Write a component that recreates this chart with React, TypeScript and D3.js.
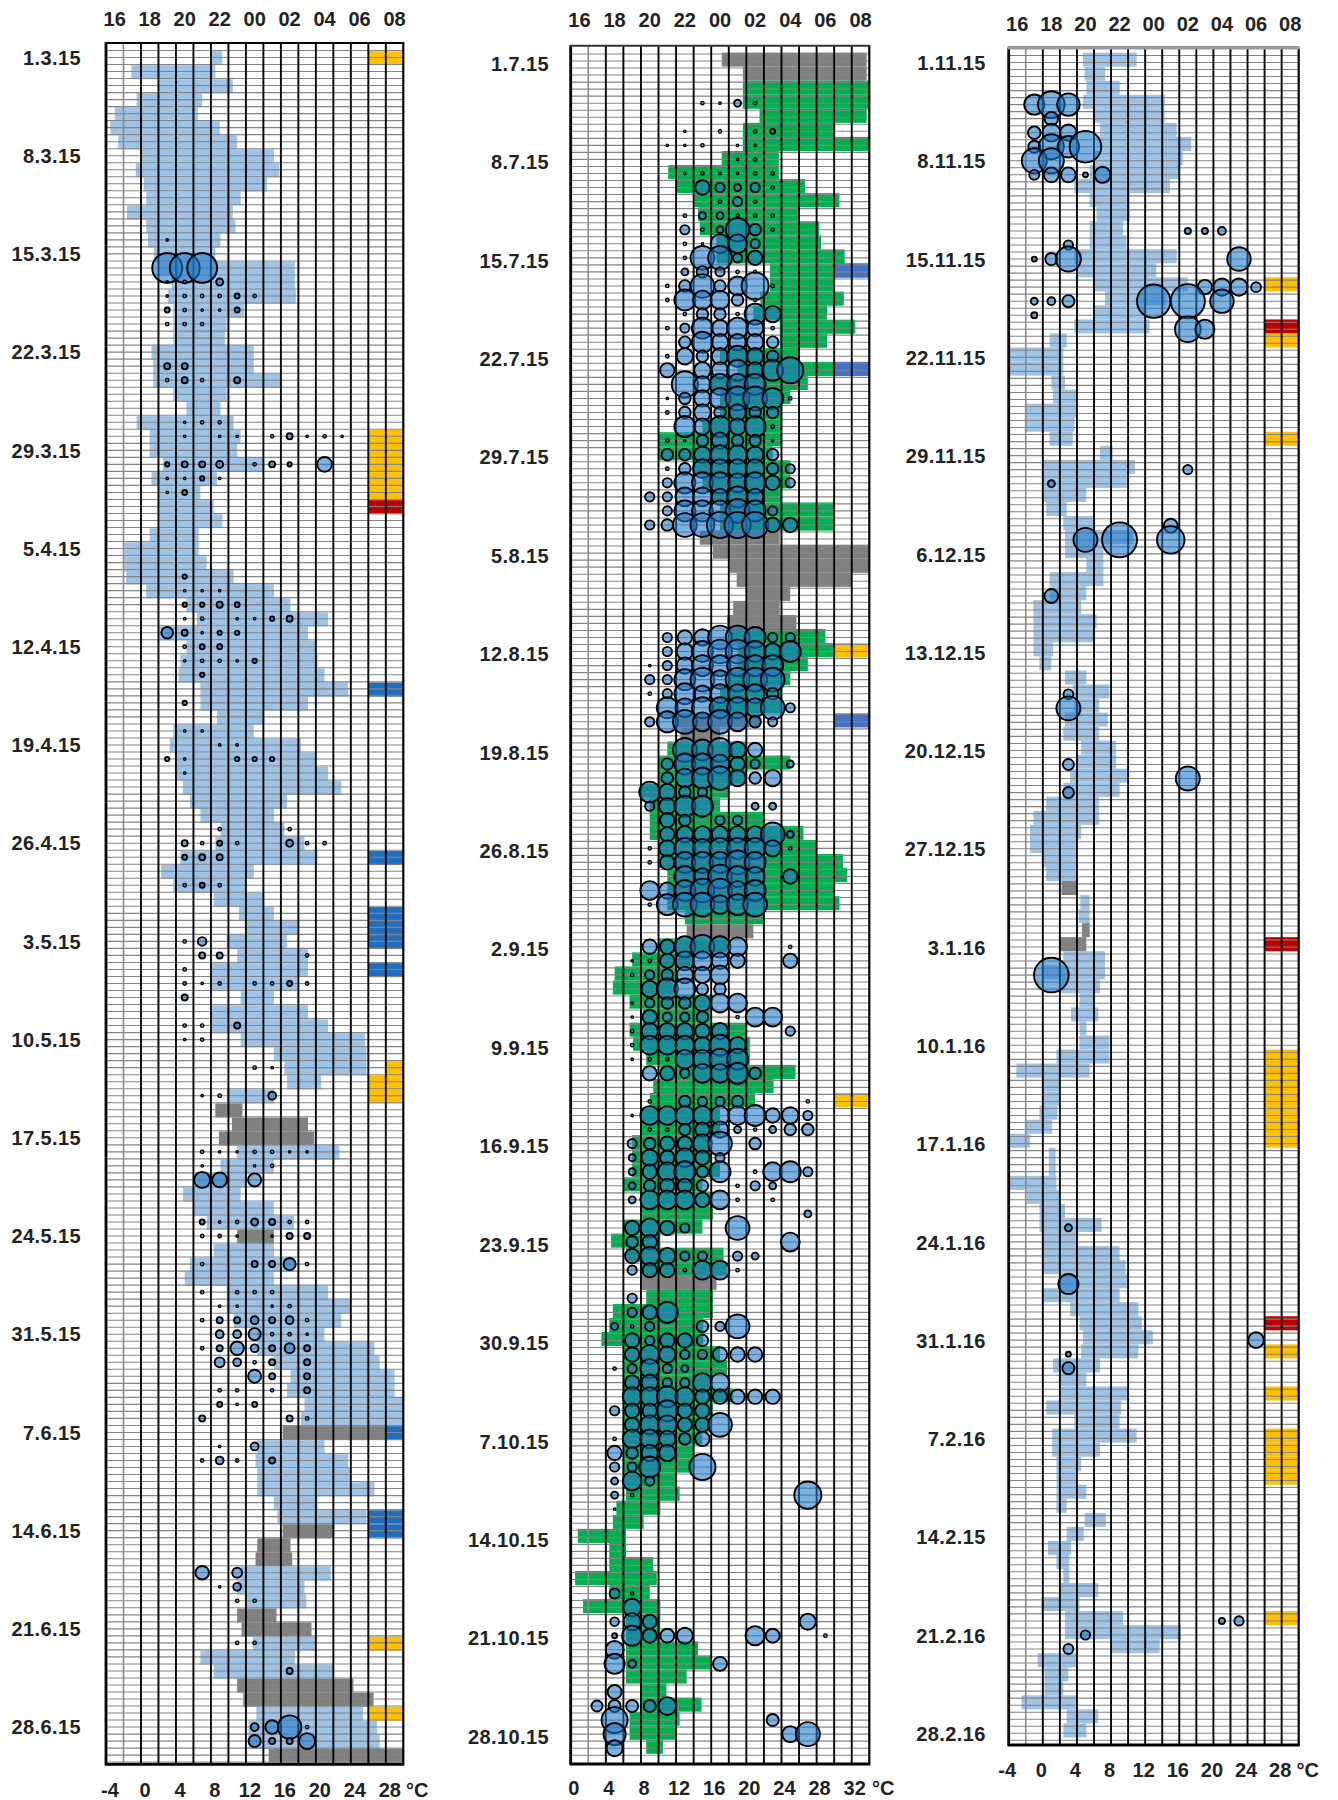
import React from 'react';
import * as d3 from 'd3';

// [day index within the panel, clock hour, number of passes]
type Activity = [number, number, number];
// [day index, marker class, number of right-hand columns covered]
type Marker = [number, string, number];

const HOURS = [16, 17, 18, 19, 20, 21, 22, 23, 0, 1, 2, 3, 4, 5, 6, 7, 8];
const HOUR_TICKS = [16, 18, 20, 22, 0, 2, 4, 6, 8];
const TEMP_TICKS_COLD = [-4, 0, 4, 8, 12, 16, 20, 24, 28];
const TEMP_TICKS_WARM = [0, 4, 8, 12, 16, 20, 24, 28, 32];

// ---------- March – June 2015 ----------
const springLabels = ['1.3.15', '8.3.15', '15.3.15', '22.3.15', '29.3.15', '5.4.15', '12.4.15', '19.4.15', '26.4.15',
  '3.5.15', '10.5.15', '17.5.15', '24.5.15', '31.5.15', '7.6.15', '14.6.15', '21.6.15', '28.6.15'];
const springMin = [8.1, -1.1, 2.1, -0.5, -3, -3.5, -2.6, 0, -0.6, 0.3,
  0.6, -1.6, 0.6, 0.8, 1.5, 2, 3.5, 3.1, 3.7, 3.7,
  3.7, 1.2, 1.4, 1.4, 3.7, 5.2, -0.5, 1, 1, 2.5,
  1.2, 2.1, 2.1, 2.1, 1, -1.9, -1.9, -1.7, 0.6, 5.2,
  6.4, 2.1, 5.2, 4.5, 4.3, 6.8, 6.8, 8.7, 3.7, 3.3,
  4.1, 4.1, 4.8, 5.6, 6.8, 9.1, 8.5, 4.5, 2.3, 3.7,
  8.3, 11.2, 12.1, 9.8, 11, 7.9, 8.1, 11.4, 8.1, 8.1,
  11.4, 15.2, 16.4, 16.7, 9.8, 8.5, 10.4, 8.9, 11, 9.1,
  6.4, 4.8, 6, 7.5, 11, 8.3, 5.6, 5, 9.8, 9.8,
  10.6, 13.3, 13.3, 15.2, 17.1, 16.7, 18.7, 18.3, 16.2, 13.3,
  13.1, 13.3, 13.3, 15.2, 15.6, 16.2, 13.3, 13.1, 11.4, 11,
  12.1, 11, 11.5, 12.8, 6.8, 8.3, 11, 11.7, 13.2, 12.3,
  12.3, 14.6];
const springMax = [9.3, 8.5, 10.5, 7, 6.5, 9, 11, 15.2, 15.8, 14.4,
  11.4, 10.5, 10.8, 9.1, 8.5, 17.6, 17.6, 17.7, 11.8, 9.8,
  9.6, 12.9, 12.9, 16, 9.8, 9.1, 10.6, 11.4, 11, 14.1,
  8.7, 6.8, 8.3, 9.3, 6.6, 6.6, 7.5, 10.6, 15.2, 17.1,
  21.4, 19.1, 20, 20.2, 21, 23.7, 19.1, 14.1, 12.9, 18.3,
  20, 21.4, 22.9, 16.7, 15.2, 16.4, 18.7, 20.2, 12.9, 12.1,
  14.1, 15.2, 17.9, 16.7, 19.1, 19.1, 17.9, 15.2, 19.1, 21.4,
  25.6, 25.8, 25.8, 20.6, 15.2, 11.6, 19.1, 19.8, 22.7, 15.2,
  12.1, 11.4, 15.2, 17.5, 15.2, 15.2, 17.5, 15.2, 21.4, 23.9,
  22.9, 21, 26.7, 27.3, 29, 29, 30, 30, 28.3, 21,
  23.7, 24, 26.7, 20.2, 25.8, 22.1, 17.1, 17.3, 21.7, 18.7,
  18.9, 15.5, 19.5, 19.9, 17.6, 22, 24.3, 26.6, 25.4, 27,
  27.3, 30];
const springGreyDays = [75, 76, 77, 84, 98, 105, 106, 107, 111, 112, 116, 117, 121];
const springMarkers: Marker[] = [[0, 'y', 2], [27, 'y', 2], [28, 'y', 2], [29, 'y', 2], [30, 'y', 2], [31, 'y', 2],
  [32, 'r', 2], [45, 'b', 2], [57, 'b', 2], [61, 'b', 2], [62, 'b', 2], [63, 'b', 2], [65, 'b', 2],
  [72, 'y', 1], [73, 'y', 2], [74, 'y', 2], [98, 'b', 1], [104, 'b', 2], [105, 'b', 2], [113, 'y', 2], [118, 'y', 2]];
const springActivity: Activity[] = [
  [13, 19, 0.5],
  [15, 19, 73], [15, 20, 73], [15, 21, 73],
  [16, 19, 0.5], [16, 20, 1], [16, 22, 4],
  [17, 19, 0.5], [17, 20, 1], [17, 21, 1], [17, 22, 1], [17, 23, 2], [17, 0, 1],
  [18, 19, 2], [18, 20, 1], [18, 21, 0.5], [18, 22, 0.5], [18, 23, 2],
  [19, 19, 1], [19, 20, 1], [19, 21, 1],
  [22, 19, 3], [22, 20, 3],
  [23, 19, 1], [23, 20, 3], [23, 21, 1], [23, 23, 3],
  [26, 20, 0.5], [26, 21, 1], [26, 22, 1],
  [27, 20, 0.5], [27, 22, 0.5], [27, 23, 0.5], [27, 1, 1], [27, 2, 3], [27, 3, 0.5], [27, 4, 1], [27, 5, 0.5],
  [29, 19, 1.5], [29, 20, 3], [29, 21, 3], [29, 22, 4], [29, 0, 1], [29, 1, 3], [29, 2, 1.5], [29, 4, 18],
  [30, 19, 0.5], [30, 20, 0.5], [30, 21, 1.5], [30, 22, 0.5],
  [31, 19, 0.5], [31, 20, 2],
  [37, 20, 1.5],
  [38, 20, 0.5], [38, 21, 0.5], [38, 22, 0.5],
  [39, 20, 1.5], [39, 21, 1.5], [39, 22, 3], [39, 23, 2],
  [40, 20, 0.5], [40, 21, 1], [40, 23, 0.5], [40, 0, 0.5], [40, 1, 1.5], [40, 2, 3],
  [41, 19, 11], [41, 20, 3], [41, 21, 0.5], [41, 22, 1.5], [41, 23, 1.5],
  [42, 20, 1], [42, 21, 2], [42, 22, 2],
  [43, 20, 0.5], [43, 21, 1], [43, 22, 1], [43, 23, 0.5], [43, 0, 1.5],
  [44, 21, 1.5],
  [46, 20, 1.5],
  [48, 20, 0.5], [48, 21, 0.5],
  [49, 22, 0.5], [49, 23, 0.5],
  [50, 19, 1.5], [50, 20, 0.5], [50, 23, 1.5], [50, 0, 1.5], [50, 1, 1.5],
  [51, 20, 0.5],
  [55, 22, 1], [55, 2, 1],
  [56, 20, 3], [56, 21, 1], [56, 22, 2], [56, 23, 1], [56, 2, 4], [56, 3, 1], [56, 4, 1],
  [57, 20, 2], [57, 21, 3], [57, 22, 3],
  [59, 20, 1], [59, 21, 2], [59, 22, 1],
  [63, 20, 1], [63, 21, 6],
  [64, 21, 3], [64, 22, 3], [64, 3, 1],
  [65, 20, 1],
  [66, 20, 1], [66, 21, 0.5], [66, 22, 1], [66, 0, 1], [66, 1, 1], [66, 2, 2], [66, 3, 1],
  [67, 20, 3],
  [69, 20, 1], [69, 21, 1], [69, 23, 3],
  [70, 20, 0.5], [70, 21, 1],
  [72, 0, 1], [72, 1, 0.5],
  [74, 21, 0.5], [74, 22, 1], [74, 1, 5],
  [78, 21, 1], [78, 22, 0.5], [78, 23, 0.5], [78, 0, 1], [78, 1, 1], [78, 2, 0.5], [78, 3, 0.5],
  [79, 21, 0.5], [79, 0, 0.5], [79, 1, 1],
  [80, 21, 21], [80, 22, 18], [80, 0, 14],
  [83, 21, 2], [83, 22, 0.5], [83, 23, 1], [83, 0, 4], [83, 1, 3], [83, 2, 1], [83, 3, 1],
  [84, 21, 1], [84, 22, 1], [84, 23, 0.5], [84, 1, 0.5], [84, 2, 3], [84, 3, 3],
  [86, 21, 1], [86, 0, 3], [86, 1, 3], [86, 2, 12], [86, 3, 1],
  [88, 21, 1], [88, 23, 1], [88, 0, 1], [88, 1, 1],
  [89, 22, 0.5], [89, 23, 0.5], [89, 1, 0.5], [89, 2, 1],
  [90, 21, 1], [90, 22, 3], [90, 23, 3], [90, 0, 5], [90, 1, 3], [90, 2, 5], [90, 3, 1],
  [91, 22, 5], [91, 23, 5], [91, 0, 12], [91, 1, 1], [91, 2, 1], [91, 3, 0.5],
  [92, 21, 1], [92, 22, 3], [92, 23, 15], [92, 0, 5], [92, 1, 3], [92, 2, 8], [92, 3, 3],
  [93, 22, 8], [93, 23, 5], [93, 0, 1], [93, 1, 3], [93, 3, 3],
  [94, 0, 14], [94, 1, 3], [94, 3, 3],
  [95, 22, 1], [95, 23, 1], [95, 1, 1], [95, 3, 3],
  [96, 22, 2], [96, 23, 0.5], [96, 0, 2],
  [97, 21, 3], [97, 2, 3], [97, 3, 1],
  [99, 22, 0.5], [99, 0, 5],
  [100, 21, 1], [100, 22, 5], [100, 23, 1], [100, 1, 3],
  [108, 21, 15], [108, 23, 8],
  [109, 22, 0.5], [109, 23, 5],
  [110, 23, 1], [110, 0, 1],
  [113, 23, 1], [113, 0, 1],
  [115, 2, 3],
  [119, 0, 5], [119, 1, 15], [119, 2, 45], [119, 3, 1],
  [120, 0, 12], [120, 1, 3], [120, 2, 3], [120, 3, 21],
];

// ---------- July – October 2015 ----------
const summerLabels = ['1.7.15', '8.7.15', '15.7.15', '22.7.15', '29.7.15', '5.8.15', '12.8.15', '19.8.15', '26.8.15',
  '2.9.15', '9.9.15', '16.9.15', '23.9.15', '30.9.15', '7.10.15', '14.10.15', '21.10.15', '28.10.15'];
const summerMin = [17.2, 19.6, 19.6, 19.6, 21.5, 19.6, 19.6, 17.2, 11.1, 12,
  14.1, 14.5, 14.7, 16.6, 16.6, 22.7, 22.7, 21.6, 20.8, 23.8,
  23.8, 17, 19, 16, 17, 17, 15, 10, 10, 14,
  15, 16, 17, 17, 14.7, 16.2, 18.1, 18.9, 20, 18.5,
  17.8, 18, 19, 19, 18, 17, 16, 11.7, 12.5, 11,
  10, 10, 8, 9, 9, 9, 10, 10, 11, 11,
  11, 13, 13.2, 10, 7, 5, 4.8, 6.7, 8.2, 6.7,
  7.1, 8.6, 10.2, 9.4, 9, 8, 8, 7, 7, 7,
  6, 7.9, 7.9, 6, 4.6, 6.3, 7.9, 8.1, 8.6, 4.8,
  4.4, 3.5, 6, 6, 6, 6, 6, 6, 6, 6,
  6, 6, 6.3, 5.2, 4.8, 0.8, 4.4, 4.4, 0.5, 4.4,
  1.4, 6.3, 6.3, 6.3, 6.3, 6.3, 7.9, 8.1, 6.7, 6.7,
  8.6];
const summerMax = [33.7, 33.7, 34, 34, 33.7, 30.1, 34, 23.7, 23.7, 26.7,
  30.6, 25.9, 28.3, 28.5, 31.2, 34, 30, 31.1, 29.2, 32.4,
  29.2, 26, 32, 27, 25, 24, 24, 24, 23, 25,
  25, 24, 30, 30, 23.8, 34, 34, 32, 25, 23.8,
  25.7, 29, 32, 27, 25, 24, 24, 21.6, 17, 20,
  25, 20, 18, 17, 22, 26.5, 28, 31, 31.5, 30,
  30.6, 22, 20.8, 17.8, 14, 12, 11.7, 16.2, 15.9, 20,
  20.4, 20.4, 25.6, 23.1, 21, 17, 17, 16, 16, 17,
  15, 16.2, 16.2, 15, 10.2, 17.4, 17.8, 16.6, 16.2, 16.2,
  15.1, 15.1, 17, 17.8, 16.2, 18.5, 16.2, 16, 15, 14,
  13.9, 12, 12.4, 10.2, 8.3, 6.3, 6.3, 9.4, 9.8, 9,
  10.2, 10.2, 10.2, 14.5, 15.9, 13.2, 10.9, 14.9, 12.4, 12.1,
  10.5];
const summerGreyDays = [0, 1, 34, 35, 36, 37, 38, 39, 40, 47, 48, 62, 87];
const summerMarkers: Marker[] = [[15, 'b', 2], [22, 'b', 2], [42, 'y', 2], [47, 'b', 2], [74, 'y', 2]];
const summerActivity: Activity[] = [
  [3, 23, 1], [3, 0, 0.5], [3, 1, 4], [3, 2, 1],
  [5, 22, 0.5], [5, 0, 1], [5, 2, 1], [5, 3, 2],
  [6, 21, 0.5], [6, 22, 0.5], [6, 23, 1], [6, 1, 0.5], [6, 2, 0.5],
  [7, 1, 0.5], [7, 2, 1],
  [8, 22, 0.5], [8, 23, 1], [8, 0, 0.5], [8, 1, 0.5], [8, 2, 1], [8, 3, 1],
  [9, 23, 17], [9, 0, 7], [9, 1, 4], [9, 2, 7], [9, 3, 1],
  [10, 0, 1], [10, 1, 7], [10, 2, 1],
  [11, 22, 1], [11, 23, 4], [11, 0, 4], [11, 1, 1], [11, 2, 1], [11, 3, 1],
  [12, 22, 7], [12, 23, 1], [12, 0, 4], [12, 1, 45], [12, 2, 11], [12, 3, 1],
  [13, 22, 1], [13, 23, 0.5], [13, 0, 29], [13, 1, 29], [13, 2, 7],
  [14, 22, 1], [14, 23, 46], [14, 0, 46], [14, 1, 7], [14, 2, 17],
  [15, 22, 4], [15, 23, 11], [15, 0, 7], [15, 1, 1], [15, 2, 1],
  [16, 21, 1], [16, 22, 11], [16, 23, 46], [16, 0, 11], [16, 1, 29], [16, 2, 60], [16, 3, 1],
  [17, 21, 1], [17, 22, 36], [17, 23, 29], [17, 0, 29], [17, 1, 11], [17, 2, 1],
  [18, 22, 1], [18, 23, 11], [18, 0, 11], [18, 1, 1], [18, 2, 36], [18, 3, 22],
  [19, 21, 1], [19, 22, 7], [19, 23, 36], [19, 0, 22], [19, 1, 36], [19, 2, 22], [19, 3, 1],
  [20, 22, 11], [20, 23, 36], [20, 0, 22], [20, 1, 22], [20, 2, 22], [20, 3, 11],
  [21, 21, 1], [21, 22, 22], [21, 23, 11], [21, 0, 22], [21, 1, 36], [21, 2, 22], [21, 3, 11],
  [22, 21, 17], [22, 23, 22], [22, 0, 22], [22, 1, 36], [22, 2, 22], [22, 3, 36], [22, 4, 56],
  [23, 22, 56], [23, 23, 22], [23, 0, 36], [23, 1, 36], [23, 2, 36],
  [24, 21, 0.5], [24, 22, 11], [24, 23, 22], [24, 0, 36], [24, 1, 46], [24, 2, 46], [24, 3, 36], [24, 4, 1],
  [25, 21, 1], [25, 22, 11], [25, 23, 22], [25, 0, 11], [25, 1, 22], [25, 2, 11], [25, 3, 11],
  [26, 22, 36], [26, 23, 22], [26, 0, 36], [26, 1, 22], [26, 2, 36], [26, 3, 1],
  [27, 21, 1], [27, 22, 0.5], [27, 23, 11], [27, 0, 22], [27, 1, 11], [27, 2, 11], [27, 3, 0.5],
  [28, 21, 11], [28, 22, 11], [28, 23, 22], [28, 0, 29], [28, 1, 29], [28, 2, 22], [28, 3, 11],
  [29, 21, 1], [29, 22, 11], [29, 23, 29], [29, 0, 29], [29, 1, 29], [29, 2, 29], [29, 3, 11], [29, 4, 7],
  [30, 21, 7], [30, 22, 36], [30, 23, 36], [30, 0, 36], [30, 1, 29], [30, 2, 36], [30, 3, 17], [30, 4, 7],
  [31, 20, 7], [31, 21, 7], [31, 22, 29], [31, 23, 29], [31, 0, 22], [31, 1, 36], [31, 2, 22],
  [32, 21, 7], [32, 22, 36], [32, 23, 36], [32, 0, 36], [32, 1, 46], [32, 2, 36], [32, 3, 7],
  [33, 20, 7], [33, 21, 11], [33, 22, 46], [33, 23, 46], [33, 0, 56], [33, 1, 56], [33, 2, 56], [33, 3, 17], [33, 4, 17],
  [41, 21, 7], [41, 22, 17], [41, 23, 22], [41, 0, 46], [41, 1, 46], [41, 2, 36], [41, 3, 7], [41, 4, 7],
  [42, 21, 7], [42, 22, 22], [42, 23, 36], [42, 0, 46], [42, 1, 46], [42, 2, 36], [42, 3, 22], [42, 4, 36],
  [43, 20, 0.5], [43, 21, 7], [43, 22, 22], [43, 23, 36], [43, 0, 36], [43, 1, 36], [43, 2, 36], [43, 3, 36],
  [44, 20, 7], [44, 21, 7], [44, 22, 36], [44, 23, 46], [44, 0, 29], [44, 1, 46], [44, 2, 46], [44, 3, 46],
  [45, 20, 1], [45, 21, 7], [45, 22, 36], [45, 23, 22], [45, 0, 29], [45, 1, 29], [45, 2, 29], [45, 3, 11],
  [46, 21, 36], [46, 22, 29], [46, 23, 36], [46, 0, 36], [46, 1, 36], [46, 2, 29], [46, 3, 46], [46, 4, 7],
  [47, 20, 7], [47, 21, 36], [47, 22, 46], [47, 23, 29], [47, 0, 46], [47, 1, 29], [47, 2, 11], [47, 3, 7],
  [49, 22, 46], [49, 23, 36], [49, 0, 46], [49, 1, 22], [49, 2, 17],
  [50, 21, 11], [50, 22, 36], [50, 23, 36], [50, 0, 29], [50, 1, 17], [50, 2, 7], [50, 4, 4],
  [51, 21, 11], [51, 22, 29], [51, 23, 36], [51, 0, 46], [51, 1, 22], [51, 2, 11], [51, 3, 22],
  [52, 20, 36], [52, 21, 22], [52, 22, 11], [52, 23, 7],
  [53, 20, 7], [53, 21, 22], [53, 22, 36], [53, 23, 36], [53, 2, 4], [53, 3, 4],
  [54, 21, 17], [54, 22, 11], [54, 0, 7], [54, 1, 7],
  [55, 21, 17], [55, 22, 22], [55, 23, 22], [55, 0, 22], [55, 1, 22], [55, 2, 22], [55, 3, 46], [55, 4, 4],
  [56, 20, 1], [56, 21, 22], [56, 22, 36], [56, 23, 29], [56, 0, 36], [56, 1, 36], [56, 2, 36], [56, 3, 22], [56, 4, 1],
  [57, 20, 1], [57, 21, 17], [57, 22, 36], [57, 23, 36], [57, 0, 36], [57, 1, 46], [57, 2, 36],
  [58, 22, 36], [58, 23, 22], [58, 0, 46], [58, 1, 36], [58, 2, 29], [58, 4, 17],
  [59, 20, 29], [59, 21, 22], [59, 22, 36], [59, 23, 46], [59, 0, 46], [59, 1, 29], [59, 2, 36],
  [60, 20, 1], [60, 21, 36], [60, 22, 46], [60, 23, 46], [60, 0, 29], [60, 1, 36], [60, 2, 46],
  [63, 20, 17], [63, 21, 17], [63, 22, 36], [63, 23, 46], [63, 0, 36], [63, 1, 29], [63, 4, 1],
  [64, 19, 0.5], [64, 20, 1], [64, 21, 17], [64, 22, 29], [64, 23, 29], [64, 0, 22], [64, 1, 17], [64, 4, 17],
  [65, 19, 1], [65, 20, 7], [65, 21, 11], [65, 22, 22], [65, 23, 22], [65, 0, 29],
  [66, 20, 22], [66, 21, 36], [66, 22, 36], [66, 23, 11], [66, 0, 11],
  [67, 19, 0.5], [67, 20, 7], [67, 21, 11], [67, 22, 11], [67, 23, 22], [67, 0, 29], [67, 1, 29],
  [68, 19, 0.5], [68, 20, 17], [68, 21, 7], [68, 22, 7], [68, 23, 11], [68, 1, 1], [68, 2, 29], [68, 3, 29],
  [69, 19, 1], [69, 20, 22], [69, 21, 22], [69, 22, 22], [69, 23, 17], [69, 0, 22], [69, 4, 7],
  [70, 19, 1], [70, 20, 29], [70, 21, 29], [70, 22, 29], [70, 23, 22], [70, 0, 36], [70, 1, 22],
  [71, 19, 0.5], [71, 20, 1], [71, 21, 1], [71, 22, 29], [71, 23, 29], [71, 0, 36], [71, 1, 36],
  [72, 20, 17], [72, 21, 17], [72, 22, 7], [72, 23, 29], [72, 0, 29], [72, 1, 36], [72, 2, 11],
  [74, 20, 1], [74, 22, 11], [74, 23, 7], [74, 0, 7], [74, 1, 11], [74, 5, 1],
  [75, 19, 0.5], [75, 20, 29], [75, 21, 29], [75, 22, 29], [75, 23, 29], [75, 0, 29], [75, 1, 29], [75, 2, 36], [75, 3, 17], [75, 4, 22], [75, 5, 7],
  [76, 20, 1], [76, 21, 1], [76, 22, 11], [76, 23, 17], [76, 0, 22], [76, 1, 4], [76, 2, 1], [76, 3, 4], [76, 4, 11], [76, 5, 11],
  [77, 19, 7], [77, 20, 11], [77, 21, 17], [77, 22, 17], [77, 23, 29], [77, 0, 46], [77, 2, 11],
  [78, 19, 4], [78, 20, 22], [78, 21, 17], [78, 22, 29], [78, 23, 17], [78, 0, 7],
  [79, 19, 4], [79, 20, 17], [79, 21, 29], [79, 22, 36], [79, 23, 11], [79, 0, 36], [79, 2, 1], [79, 3, 29], [79, 4, 36], [79, 5, 7],
  [80, 19, 4], [80, 20, 11], [80, 21, 17], [80, 22, 17], [80, 23, 11], [80, 1, 1], [80, 2, 7], [80, 3, 4],
  [81, 19, 4], [81, 20, 29], [81, 21, 29], [81, 22, 29], [81, 23, 17], [81, 0, 29], [81, 1, 1], [81, 3, 1],
  [82, 5, 4],
  [83, 19, 17], [83, 20, 29], [83, 21, 17], [83, 22, 7], [83, 1, 46],
  [84, 19, 11], [84, 20, 17], [84, 4, 29],
  [85, 19, 17], [85, 20, 29], [85, 21, 22], [85, 22, 7], [85, 23, 7], [85, 1, 7], [85, 2, 4],
  [86, 19, 7], [86, 20, 17], [86, 21, 17], [86, 22, 1], [86, 23, 29], [86, 0, 29], [86, 1, 1],
  [88, 19, 7],
  [89, 19, 7], [89, 20, 17], [89, 21, 36],
  [90, 18, 4], [90, 19, 1], [90, 20, 7], [90, 23, 11], [90, 0, 7], [90, 1, 46],
  [91, 19, 17], [91, 20, 7], [91, 21, 17], [91, 22, 17], [91, 23, 11],
  [92, 19, 17], [92, 20, 29], [92, 21, 22], [92, 22, 7], [92, 23, 7], [92, 0, 17], [92, 1, 17], [92, 2, 17],
  [93, 18, 1], [93, 19, 7], [93, 20, 29], [93, 21, 7], [93, 22, 4],
  [94, 19, 17], [94, 20, 22], [94, 21, 7], [94, 22, 7], [94, 23, 29], [94, 0, 29],
  [95, 19, 29], [95, 20, 29], [95, 21, 36], [95, 22, 29], [95, 23, 17], [95, 0, 17], [95, 1, 17], [95, 2, 17], [95, 3, 17],
  [96, 18, 7], [96, 19, 17], [96, 20, 17], [96, 21, 36], [96, 22, 17], [96, 23, 17],
  [97, 19, 17], [97, 20, 29], [97, 21, 29], [97, 22, 17], [97, 23, 17], [97, 0, 46],
  [98, 18, 1], [98, 19, 29], [98, 20, 29], [98, 21, 22], [98, 22, 11], [98, 23, 17],
  [99, 18, 17], [99, 19, 11], [99, 20, 22], [99, 21, 22],
  [100, 18, 7], [100, 19, 7], [100, 20, 36], [100, 23, 56],
  [101, 18, 4], [101, 19, 29], [101, 20, 7],
  [102, 18, 4], [102, 19, 1], [102, 5, 60],
  [103, 18, 0.5],
  [109, 18, 8], [109, 19, 1],
  [110, 19, 26],
  [111, 18, 6], [111, 19, 24], [111, 20, 16], [111, 5, 21],
  [112, 18, 2], [112, 19, 33], [112, 20, 16], [112, 21, 16], [112, 22, 21], [112, 2, 30], [112, 3, 16], [112, 6, 1],
  [113, 18, 26],
  [114, 18, 33], [114, 19, 5], [114, 0, 16],
  [116, 18, 16],
  [117, 17, 10], [117, 18, 12], [117, 19, 12], [117, 20, 12], [117, 21, 26],
  [118, 18, 55], [118, 3, 12],
  [119, 18, 40], [119, 4, 21], [119, 5, 47],
  [120, 18, 21],
];

// ---------- November 2015 – February 2016 ----------
const winterLabels = ['1.11.15', '8.11.15', '15.11.15', '22.11.15', '29.11.15', '6.12.15', '13.12.15', '20.12.15', '27.12.15',
  '3.1.16', '10.1.16', '17.1.16', '24.1.16', '31.1.16', '7.2.16', '14.2.15', '21.2.16', '28.2.16'];
const winterMin = [4.7, 4.9, 5.1, 4.7, 5.9, 6.7, 6.7, 5.9, 5.5, 3.7,
  5.5, 6.3, 5.5, 5.5, 3.7, 3.9, 6, 7.3, 6, 3.7,
  0.8, -3.9, -3.9, 1, 1.2, -2.1, -2.1, 0.8, 6.7, 0,
  0, 0, 0.4, 2.4, 2.6, 2.6, 5.1, 0.8, 0.8, -1.1,
  -1.1, -1.1, -1.1, -0.4, 2.6, 3.5, 3.7, 2.6, 2.4, 4.5,
  3.9, 3.2, 2.4, 0.4, -1.1, -1.5, -1.5, 0, 0.4, 2.2,
  4.4, 4.2, 4.6, 2, 2.4, 0, 2, 4.3, 3.3, 4.3,
  4.3, 1.6, -3.1, 0, 0, -0.4, -2.1, -3.9, 0.7, 0.7,
  -3.9, -1.9, -0.4, -0.4, 0, 0, 0, 2, 0, 3.2,
  4.3, 4.7, 4.5, 1.2, 2, 2, 0.4, 3.7, 1.1, 1.1,
  1.6, 1.6, 1.6, 1.6, 4.9, 2.8, 0.6, 1.6, 2.4, 2,
  -0.2, 2.6, 2.6, 8, -0.6, 0.2, 0.2, -2.5, 2.8, 2.4];
const winterMax = [11, 7.3, 9, 14.3, 14.3, 15.7, 17.4, 16.4, 16, 14.9,
  10.2, 10.2, 9.4, 9.8, 15.7, 13.3, 17, 14.5, 12, 12.5,
  2.8, 2.4, 2.4, 2.6, 4, 3.9, 3.7, 3.5, 8.2, 10.8,
  9.9, 5.1, 2.8, 5.9, 10.6, 7.1, 7.1, 7.1, 5.1, 4.5,
  6.3, 5.9, 1.2, 1, 5.1, 7.8, 6.6, 7.6, 6.6, 8.6,
  8.6, 9.9, 9, 6.6, 6.6, 4.5, 3.9, 3.9, 3.9, 3.9,
  5.5, 5.5, 5.5, 5.1, 7.3, 7.3, 6.7, 5.9, 6.5, 5.1,
  7.8, 7.8, 5.5, 2, 2, 1.7, 1.1, -1.5, 1.5, 1.5,
  1.6, 2, 2.6, 6.9, 4.1, 9, 9.7, 9.9, 9, 11.2,
  11.6, 12.9, 11.2, 6.7, 5.1, 9.9, 9.2, 9, 11, 6.7,
  4.5, 3.9, 5.1, 2.8, 7.4, 4.8, 3.3, 3.1, 3.1, 6.5,
  4.3, 9.4, 16.2, 13.7, 4.1, 3, 2.4, 4.1, 6.5, 5.1];
const winterGreyDays = [59, 62, 63];
const winterMarkers: Marker[] = [[16, 'y', 2], [19, 'r', 2], [20, 'y', 2], [27, 'y', 2], [63, 'r', 2],
  [71, 'y', 2], [72, 'y', 2], [73, 'y', 2], [74, 'y', 2], [75, 'y', 2], [76, 'y', 2], [77, 'y', 2],
  [90, 'r', 2], [92, 'y', 2], [95, 'y', 2], [98, 'y', 2], [99, 'y', 2], [100, 'y', 2], [101, 'y', 2], [111, 'y', 2]];
const winterActivity: Activity[] = [
  [3, 17, 33], [3, 18, 58], [3, 19, 41],
  [4, 18, 15],
  [5, 17, 13], [5, 18, 26], [5, 19, 22],
  [6, 17, 12], [6, 18, 51], [6, 19, 38], [6, 20, 82],
  [7, 17, 51], [7, 18, 51],
  [8, 17, 8], [8, 18, 18], [8, 19, 18], [8, 20, 2], [8, 21, 21],
  [12, 2, 3], [12, 3, 3], [12, 4, 5],
  [13, 19, 7],
  [14, 17, 2], [14, 18, 12], [14, 19, 51], [14, 5, 45],
  [16, 3, 17], [16, 4, 24], [16, 5, 24], [16, 6, 8],
  [17, 17, 4], [17, 18, 5], [17, 19, 12], [17, 0, 91], [17, 2, 95], [17, 4, 45],
  [18, 17, 3],
  [19, 2, 54], [19, 3, 30],
  [29, 2, 7],
  [30, 18, 4],
  [33, 1, 16],
  [34, 20, 47], [34, 22, 100], [34, 1, 62],
  [38, 18, 16],
  [45, 19, 8],
  [46, 19, 47],
  [50, 19, 10],
  [51, 2, 47],
  [52, 19, 10],
  [65, 18, 98],
  [83, 19, 4],
  [87, 19, 33],
  [91, 6, 20],
  [92, 19, 2],
  [93, 19, 12],
  [111, 4, 3], [111, 5, 7],
  [112, 20, 7],
  [113, 19, 8],
];

interface Frame {
  left: number; right: number; top: number; bottom: number;
  day0: number; dayStep: number; barShift: number;
  labelRight: number; labelShift: number;
  hourY: number; tempY: number; tickShift: number; unitShift: number;
  topStroke: string; topWidth: number;
}

interface PanelSpec {
  id: string;
  labels: string[];
  tMin: number[];
  tMax: number[];
  grey: number[];
  markers: Marker[];
  activity: Activity[];
  tempDomain: [number, number];
  tempTicks: number[];
  rangeFill: string;
  markerBlue: string;
  frame: Frame;
}

const panels: PanelSpec[] = [
  {
    id: 'spring', labels: springLabels, tMin: springMin, tMax: springMax, grey: springGreyDays,
    markers: springMarkers, activity: springActivity, tempDomain: [-4, 30], tempTicks: TEMP_TICKS_COLD,
    rangeFill: '#9dc3e6', markerBlue: '#1f6fc0',
    frame: { left: 106, right: 403.3, top: 43, bottom: 1764.3, day0: 57.5, dayStep: 14.03, barShift: 0.05,
      labelRight: 81, labelShift: 0, hourY: 18.5, tempY: 1790, tickShift: 4, unitShift: 14,
      topStroke: '#000', topWidth: 2 },
  },
  {
    id: 'summer', labels: summerLabels, tMin: summerMin, tMax: summerMax, grey: summerGreyDays,
    markers: summerMarkers, activity: summerActivity, tempDomain: [0, 34], tempTicks: TEMP_TICKS_WARM,
    rangeFill: '#00b050', markerBlue: '#4472c4',
    frame: { left: 570.7, right: 869.3, top: 45.7, bottom: 1764, day0: 61, dayStep: 14.06, barShift: -0.1,
      labelRight: 549, labelShift: 2.5, hourY: 19.5, tempY: 1788, tickShift: 3, unitShift: 14,
      topStroke: '#333', topWidth: 2 },
  },
  {
    id: 'winter', labels: winterLabels, tMin: winterMin, tMax: winterMax, grey: winterGreyDays,
    markers: winterMarkers, activity: winterActivity, tempDomain: [-4, 30], tempTicks: TEMP_TICKS_COLD,
    rangeFill: '#9dc3e6', markerBlue: '#1f6fc0',
    frame: { left: 1008.7, right: 1298.7, top: 47.7, bottom: 1745, day0: 62.5, dayStep: 14.04, barShift: -0.2,
      labelRight: 985.7, labelShift: 0.5, hourY: 24, tempY: 1770, tickShift: -1.5, unitShift: 9,
      topStroke: '#9a9a9a', topWidth: 3.5 },
  },
];

const FONT = '"Liberation Sans", Arial, Helvetica, sans-serif';
const TEXT_COLOR = '#222';
const MARKER_FILL: Record<string, string> = { y: '#ffc000', r: '#c00000' };

function Panel({ p }: { p: PanelSpec }) {
  const f = p.frame;
  const x = d3.scaleLinear().domain(p.tempDomain).range([f.left, f.right]);
  const col = d3.scaleBand<number>().domain(HOURS).range([f.left, f.right]).padding(0);
  const y = d3.scaleLinear().domain([0, 1]).range([f.day0, f.day0 + f.dayStep]);
  const r = d3.scaleSqrt().domain([0, 100]).range([0, 17.5]);
  const greySet = new Set(p.grey);
  const step = col.step();

  const dTop = y.invert(f.top);
  const dBottom = y.invert(f.bottom);
  const halfDays: number[] = [];
  for (let k = Math.ceil(dTop * 2 + 0.3); k / 2 < dBottom - 0.15; k++) halfDays.push(k / 2);

  const verticals = d3.range(HOURS.length + 1).map((i) => f.left + i * step);

  return (
    <g>
      {/* daily temperature range */}
      {p.tMin.map((lo, d) => {
        const hi = p.tMax[d];
        const y0 = y(d - 0.5 + f.barShift);
        const y1 = y(d + 0.5 + f.barShift);
        return (
          <rect key={`t${d}`} x={x(lo)} y={y0} width={Math.max(0, x(hi) - x(lo))} height={y1 - y0}
            fill={greySet.has(d) ? '#808080' : p.rangeFill} />
        );
      })}
      {/* weather markers in the two right-hand columns */}
      {p.markers.map(([d, cls, span], i) => {
        const x0 = col(HOURS[HOURS.length - span]) as number;
        const y0 = y(d - 0.5 + f.barShift);
        const y1 = y(d + 0.5 + f.barShift);
        return (
          <rect key={`m${i}`} x={x0} y={y0} width={f.right - x0} height={y1 - y0}
            fill={cls === 'b' ? p.markerBlue : MARKER_FILL[cls]} />
        );
      })}
      {/* grid */}
      {halfDays.map((d) => (
        <line key={`h${d}`} x1={f.left} x2={f.right} y1={y(d)} y2={y(d)} stroke="#858585" strokeWidth={1.1} />
      ))}
      {verticals.map((vx, i) => (
        <line key={`v${i}`} x1={vx} x2={vx} y1={f.top} y2={f.bottom}
          stroke={i === 1 ? '#8a8a8a' : '#000'}
          strokeWidth={i === 0 ? 2.8 : i === 1 ? 1.6 : i === HOURS.length ? 2.2 : 1.9} />
      ))}
      <line x1={f.left - 1.2} x2={f.right + 1} y1={f.top} y2={f.top} stroke={f.topStroke} strokeWidth={f.topWidth} />
      <line x1={f.left - 1.2} x2={f.right + 1} y1={f.bottom} y2={f.bottom} stroke="#000" strokeWidth={2.8} />
      {/* bat activity */}
      {p.activity.map(([d, h, n], i) => {
        const rr = r(n);
        return (
          <circle key={`c${i}`} cx={(col(h) as number) + col.bandwidth() / 2} cy={y(d)} r={rr}
            fill="#1f78c8" fillOpacity={0.58} stroke="#000" strokeWidth={rr < 2 ? 1.3 : 1.9} />
        );
      })}
      {/* hour axis */}
      {HOUR_TICKS.map((h) => (
        <text key={`ht${h}`} x={(col(h) as number) + col.bandwidth() / 2} y={f.hourY} dy="0.36em"
          textAnchor="middle" fontFamily={FONT} fontWeight="bold" fontSize={20} fill={TEXT_COLOR}>
          {String(h).padStart(2, '0')}
        </text>
      ))}
      {/* temperature axis */}
      {p.tempTicks.map((t) => (
        <text key={`tt${t}`} x={x(t) + f.tickShift} y={f.tempY} dy="0.36em" textAnchor="middle"
          fontFamily={FONT} fontWeight="bold" fontSize={20} fill={TEXT_COLOR}>
          {t}
        </text>
      ))}
      <text x={x(p.tempDomain[1]) + f.unitShift} y={f.tempY} dy="0.36em" textAnchor="middle"
        fontFamily={FONT} fontWeight="bold" fontSize={20} fill={TEXT_COLOR}>°C</text>
      {/* date labels, one per week */}
      {p.labels.map((lab, i) => (
        <text key={`dl${i}`} x={f.labelRight} y={y(i * 7) + f.labelShift} dy="0.36em" textAnchor="end"
          fontFamily={FONT} fontWeight="bold" fontSize={20} letterSpacing={0.4} fill={TEXT_COLOR}>
          {lab}
        </text>
      ))}
    </g>
  );
}

export default function App() {
  return (
    <svg width={1338} height={1800} viewBox="0 0 1338 1800"
      style={{ position: 'absolute', left: 0, top: 0, display: 'block', background: '#fff' }}>
      <rect x={0} y={0} width={1338} height={1800} fill="#fff" />
      {panels.map((p) => <Panel key={p.id} p={p} />)}
    </svg>
  );
}
